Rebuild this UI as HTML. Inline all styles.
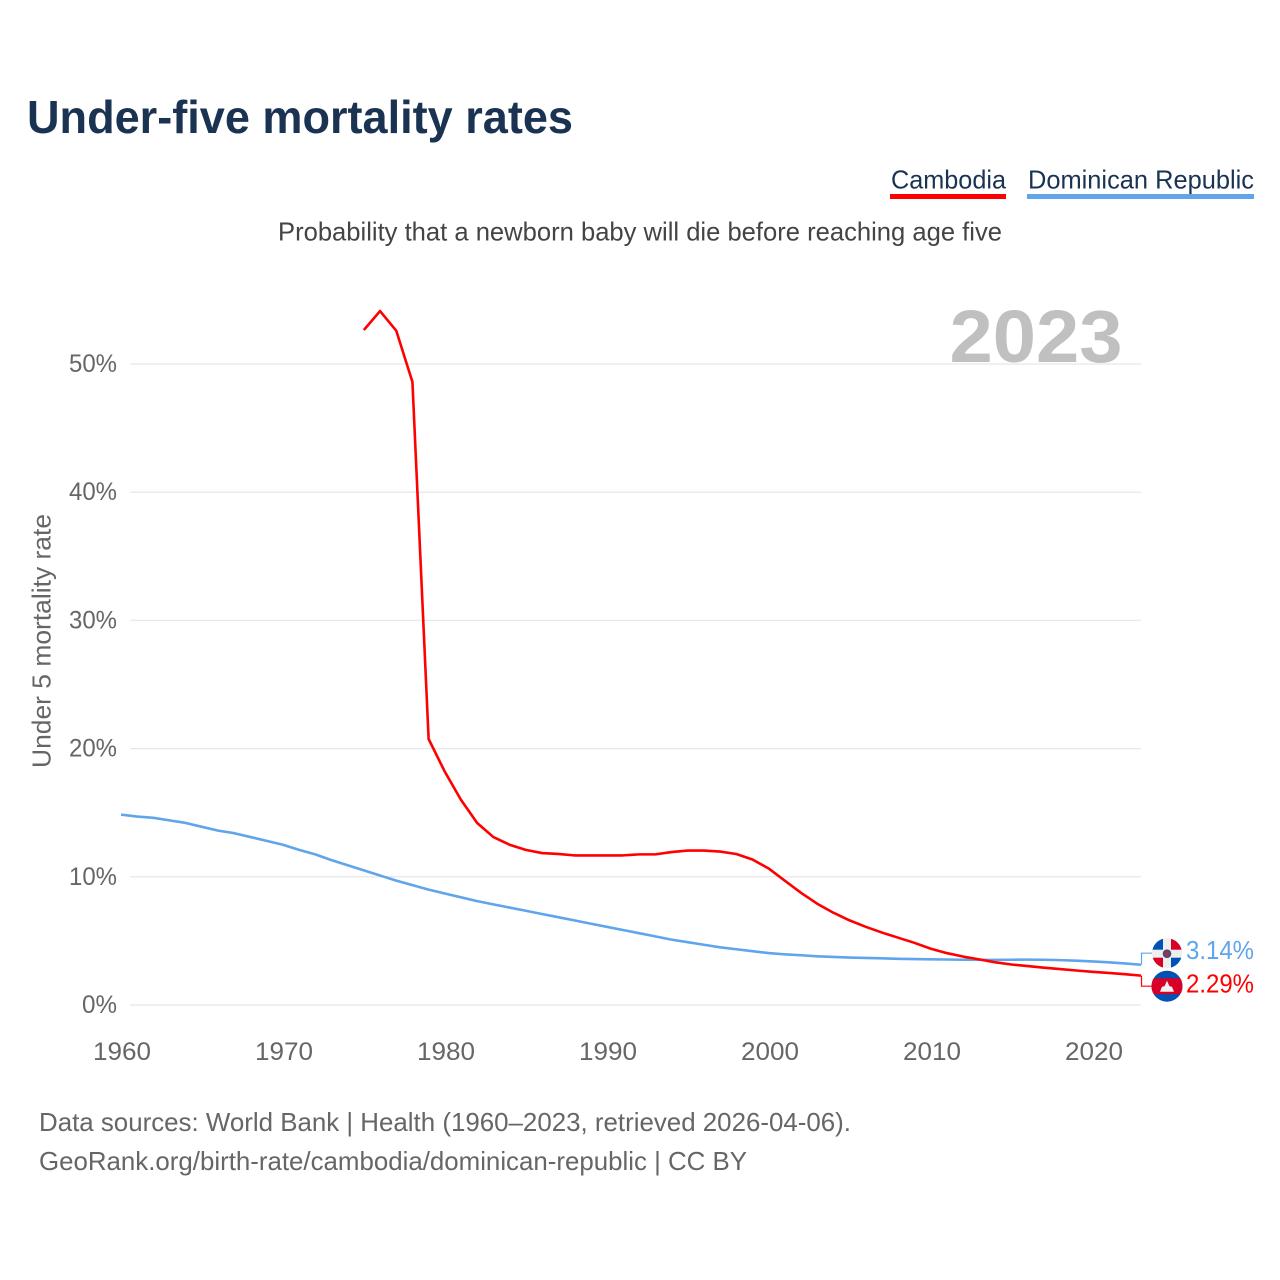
<!DOCTYPE html>
<html lang="en">
<head>
<meta charset="utf-8">
<title>Under-five mortality rates</title>
<style>
html,body{margin:0;padding:0;background:#fff;}
svg{display:block;font-family:"Liberation Sans",sans-serif;}
</style>
</head>
<body>
<svg id="chart" xmlns="http://www.w3.org/2000/svg" width="1280" height="1280" viewBox="0 0 1280 1280">
  <rect width="1280" height="1280" fill="#fff"/>
  <text x="27" y="133" font-size="46" font-weight="700" fill="#1a3353" textLength="546" lengthAdjust="spacingAndGlyphs">Under-five mortality rates</text>
  <text x="891" y="188.5" font-size="26" fill="#1a3353" textLength="115" lengthAdjust="spacingAndGlyphs">Cambodia</text>
  <rect x="890" y="194" width="116" height="5" fill="#ff0000"/>
  <text x="1028" y="188.5" font-size="26" fill="#1a3353" textLength="226" lengthAdjust="spacingAndGlyphs">Dominican Republic</text>
  <rect x="1027" y="194" width="227" height="5" fill="#60a5ec"/>
  <text x="278" y="240.5" font-size="26" fill="#444" textLength="724" lengthAdjust="spacingAndGlyphs">Probability that a newborn baby will die before reaching age five</text>
  <text x="949.5" y="362" font-size="74" font-weight="700" fill="#c0c0c0" textLength="173" lengthAdjust="spacingAndGlyphs">2023</text>
  <g id="grid"></g>
  <g id="yticks"></g>
  <g id="xticks"></g>
  <text transform="translate(50.5,641) rotate(-90)" text-anchor="middle" font-size="26" fill="#666" textLength="254" lengthAdjust="spacingAndGlyphs">Under 5 mortality rate</text>
  <g id="series"></g>
  <g id="labels"></g>
  <text x="39" y="1131" font-size="26" fill="#666" textLength="812" lengthAdjust="spacingAndGlyphs">Data sources: World Bank | Health (1960–2023, retrieved 2026-04-06).</text>
  <text x="39" y="1170" font-size="26" fill="#666" textLength="708" lengthAdjust="spacingAndGlyphs">GeoRank.org/birth-rate/cambodia/dominican-republic | CC BY</text>
</svg>
<script>
var startYear = 1960;
var endYear = 2023;
var yTickValues = [0, 10, 20, 30, 40, 50];
var xTickValues = [1960, 1970, 1980, 1990, 2000, 2010, 2020];
var cambodiaStartYear = 1975;
var cambodiaValues = [52.65,54.13,52.6,48.6,20.75,18.2,16.0,14.2,13.1,12.5,12.1,11.85,11.78,11.67,11.67,11.67,11.67,11.75,11.75,11.93,12.05,12.05,11.97,11.78,11.35,10.65,9.7,8.75,7.9,7.2,6.6,6.1,5.65,5.25,4.85,4.4,4.05,3.78,3.56,3.33,3.16,3.04,2.91,2.8,2.69,2.59,2.5,2.4,2.29];
var dominicanStartYear = 1960;
var dominicanValues = [14.85,14.7,14.6,14.4,14.2,13.9,13.6,13.4,13.1,12.8,12.5,12.1,11.75,11.3,10.9,10.5,10.1,9.7,9.35,9.0,8.7,8.4,8.1,7.85,7.6,7.35,7.1,6.85,6.6,6.35,6.1,5.85,5.6,5.35,5.1,4.9,4.7,4.5,4.35,4.2,4.05,3.95,3.88,3.8,3.75,3.7,3.67,3.64,3.6,3.58,3.56,3.55,3.53,3.52,3.52,3.53,3.54,3.53,3.5,3.46,3.4,3.33,3.24,3.14];

var NS = 'http://www.w3.org/2000/svg';
function xScale(year) { return 121 + (year - startYear) * (1141 - 121) / (endYear - startYear); }
function xLabelScale(year) { return 122 + (year - startYear) * 16.2; }
function yScale(v) { return 1005 - v * 12.82; }
function make(tag, attrs, parent, text) {
  var el = document.createElementNS(NS, tag);
  for (var k in attrs) el.setAttribute(k, attrs[k]);
  if (text !== undefined) el.textContent = text;
  parent.appendChild(el);
  return el;
}
function linePoints(start, values) {
  return values.map(function (v, i) { return xScale(start + i).toFixed(2) + ',' + yScale(v).toFixed(2); }).join(' ');
}

var grid = document.getElementById('grid');
var yticks = document.getElementById('yticks');
var xticks = document.getElementById('xticks');
var series = document.getElementById('series');
var labels = document.getElementById('labels');

yTickValues.forEach(function (v) {
  var line = make('line', {x1: 130, x2: 1141, y1: yScale(v), y2: yScale(v), stroke: '#e8e8e8', 'stroke-width': 1.3}, grid);
  
  
  var t = make('text', {x: 117, y: yScale(v) + 8, 'text-anchor': 'end', 'font-size': 25, fill: '#666', textLength: v === 0 ? 35 : 48, lengthAdjust: 'spacingAndGlyphs'}, yticks, v + '%');
  
  
});

xTickValues.forEach(function (y) {
  var t = make('text', {x: xLabelScale(y), y: 1060, 'text-anchor': 'middle', 'font-size': 25, fill: '#666', textLength: 58, lengthAdjust: 'spacingAndGlyphs'}, xticks, String(y));
  
  
});

var domLine = make('polyline', {points: linePoints(dominicanStartYear, dominicanValues), fill: 'none', stroke: '#60a5ec', 'stroke-width': 2.6, 'stroke-linejoin': 'round'}, series);


var camLine = make('polyline', {points: linePoints(cambodiaStartYear, cambodiaValues), fill: 'none', stroke: '#ff0000', 'stroke-width': 2.6, 'stroke-linejoin': 'round'}, series);



var domLast = dominicanValues[dominicanValues.length - 1];
var camLast = cambodiaValues[cambodiaValues.length - 1];
var domEndY = yScale(domLast);
var camEndY = yScale(camLast);
var mid = (domEndY + camEndY) / 2;
var domSlot = mid - 17;
var camSlot = mid + 16;
var endX = xScale(endYear) + 0.5;

var domConn = make('polyline', {points: endX + ',' + domEndY + ' ' + endX + ',' + domSlot + ' 1153,' + domSlot, fill: 'none', stroke: '#60a5ec', 'stroke-width': 1.2}, labels);


var camConn = make('polyline', {points: endX + ',' + camEndY + ' ' + endX + ',' + camSlot + ' 1153,' + camSlot, fill: 'none', stroke: '#ff0000', 'stroke-width': 1.2}, labels);



var defs = make('defs', {}, labels);
var clipD = make('clipPath', {id: 'clip-do'}, defs);
make('circle', {cx: 1167, cy: domSlot, r: 15}, clipD);
var clipK = make('clipPath', {id: 'clip-kh'}, defs);
make('circle', {cx: 1167, cy: camSlot, r: 15.5}, clipK);

var flagDo = make('g', {'clip-path': 'url(#clip-do)'}, labels);


make('rect', {x: 1151, y: domSlot - 16, width: 32, height: 32, fill: '#eeeeee'}, flagDo);
make('rect', {x: 1151, y: domSlot - 16, width: 12, height: 12.5, fill: '#0052b4'}, flagDo);
make('rect', {x: 1171, y: domSlot - 16, width: 12, height: 12.5, fill: '#d80027'}, flagDo);
make('rect', {x: 1151, y: domSlot + 4.5, width: 12, height: 12, fill: '#d80027'}, flagDo);
make('rect', {x: 1171, y: domSlot + 4.5, width: 12, height: 12, fill: '#0052b4'}, flagDo);
make('circle', {cx: 1167, cy: domSlot + 0.5, r: 3.5, fill: '#a2304a', stroke: '#35507a', 'stroke-width': 1.6}, flagDo);

var flagKh = make('g', {'clip-path': 'url(#clip-kh)'}, labels);


make('rect', {x: 1151, y: camSlot - 16, width: 32, height: 32, fill: '#0052b4'}, flagKh);
make('rect', {x: 1151, y: camSlot - 8, width: 32, height: 16, fill: '#d80027'}, flagKh);
var templeOutline = [[-7, 5.5], [-5, 0.5], [-2.5, 0], [0, -5.5], [2.5, 0], [5, 0.5], [7, 5.5]];
var temple = make('polygon', {points: templeOutline.map(function (p) { return (1167 + p[0]) + ',' + (camSlot + p[1]); }).join(' '), fill: '#f2f2f2'}, flagKh);



var domText = make('text', {x: 1186, y: domSlot + 6, 'font-size': 26, fill: '#60a5ec', textLength: 68, lengthAdjust: 'spacingAndGlyphs'}, labels, domLast.toFixed(2) + '%');


var camText = make('text', {x: 1186, y: camSlot + 6.5, 'font-size': 26, fill: '#ff0000', textLength: 68, lengthAdjust: 'spacingAndGlyphs'}, labels, camLast.toFixed(2) + '%');


</script>
</body>
</html>
